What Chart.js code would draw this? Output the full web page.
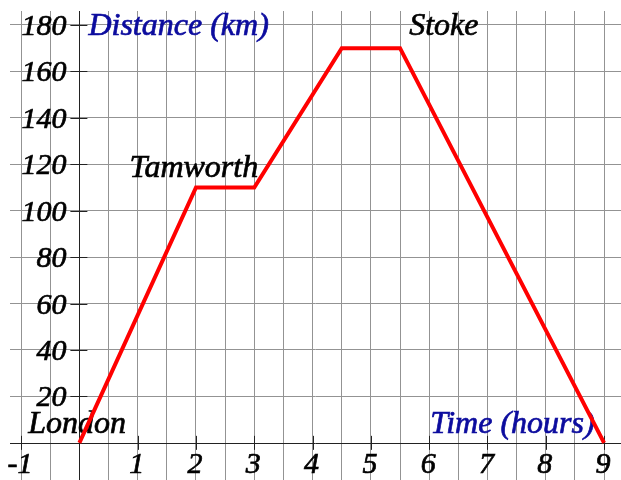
<!DOCTYPE html>
<html>
<head>
<meta charset="UTF-8">
<title>Distance time graph</title>
<script src="https://cdn.jsdelivr.net/npm/chart.js@4.4.0/dist/chart.umd.min.js"></script>
<style>
  body { margin: 0; background: #fff; }
  canvas { display: block; }
</style>
</head>
<body>
<canvas id="myChart" width="621" height="480"></canvas>
<script>
// data: the journey (hours, km)
var times = [0, 2, 3, 4.5, 5.5, 9];
var distances = [0, 110, 110, 170, 170, 0];

// tick labels
var xLabels = [-1, 1, 2, 3, 4, 5, 6, 7, 8, 9];
var yLabels = [20, 40, 60, 80, 100, 120, 140, 160, 180];
// grid lines
var xGrid = [-1, -0.5, 0, 0.5, 1, 1.5, 2, 2.5, 3, 3.5, 4, 4.5, 5, 5.5, 6, 6.5, 7, 7.5, 8, 8.5, 9];
var yGrid = [0, 20, 40, 60, 80, 100, 120, 140, 160, 180];

// place names and axis titles
var notes = [
  { text: 'Distance (km)', x: 0.155, y: 175.7, color: '#0c0c9e' },
  { text: 'Tamworth', x: 0.86, y: 114.6, color: '#000' },
  { text: 'Stoke', x: 5.656, y: 175.7, color: '#000' },
  { text: 'London', x: -0.877, y: 4.3, color: '#000' },
  { text: 'Time (hours)', x: 6.017, y: 4.3, color: '#0c0c9e' }
];

var points = [];
for (var i = 0; i < times.length; i++) {
  points.push({ x: times[i], y: distances[i] });
}

var TICK_FONT = 'italic 30px "Liberation Serif", "Times New Roman", serif';
var NOTE_FONT = 'italic 32px "Liberation Serif", "Times New Roman", serif';

// a bit heavier than plain canvas text
function heavyText(ctx, s, x, y, color) {
  ctx.fillStyle = color;
  ctx.strokeStyle = color;
  ctx.lineWidth = 0.7;
  ctx.fillText(s, x, y);
  ctx.strokeText(s, x, y);
}

// axes, ticks and texts drawn on the scales
var drawAxes = {
  id: 'drawAxes',
  beforeDatasetsDraw: function(chart) {
    var ctx = chart.ctx;
    var xs = chart.scales.x, ys = chart.scales.y;
    var area = chart.chartArea;
    var x0 = xs.getPixelForValue(0), y0 = ys.getPixelForValue(0);
    ctx.save();
    ctx.strokeStyle = '#222';
    ctx.lineWidth = 1;
    ctx.beginPath();
    ctx.moveTo(area.left, Math.round(y0) + 0.5);
    ctx.lineTo(area.right, Math.round(y0) + 0.5);
    ctx.moveTo(Math.round(x0) + 0.5, area.top);
    ctx.lineTo(Math.round(x0) + 0.5, area.bottom);
    for (var i = 0; i < xLabels.length; i++) {
      var px = Math.round(xs.getPixelForValue(xLabels[i])) + 0.5;
      ctx.moveTo(px, y0 - 7);
      ctx.lineTo(px, y0 + 7);
    }
    for (var j = 0; j < yLabels.length; j++) {
      var py = Math.round(ys.getPixelForValue(yLabels[j])) + 0.5;
      ctx.moveTo(x0 - 9, py);
      ctx.lineTo(x0 + 8, py);
    }
    ctx.stroke();

    ctx.font = TICK_FONT;
    ctx.textBaseline = 'alphabetic';
    ctx.textAlign = 'right';
    for (var j = 0; j < yLabels.length; j++) {
      heavyText(ctx, String(yLabels[j]), x0 - 13, ys.getPixelForValue(yLabels[j]) + 10, '#000');
    }
    ctx.textAlign = 'center';
    for (var i = 0; i < xLabels.length; i++) {
      heavyText(ctx, String(xLabels[i]), xs.getPixelForValue(xLabels[i]) - 1, y0 + 30, '#000');
    }
    ctx.font = NOTE_FONT;
    ctx.textAlign = 'left';
    notes.forEach(function(n) {
      heavyText(ctx, n.text, xs.getPixelForValue(n.x), ys.getPixelForValue(n.y), n.color);
    });
    ctx.restore();
  }
};

var ctx = document.getElementById('myChart').getContext('2d');
var myChart = new Chart(ctx, {
  type: 'scatter',
  data: {
    datasets: [{
      data: points,
      showLine: true,
      borderColor: '#ff0000',
      backgroundColor: '#ff0000',
      borderWidth: 4,
      pointRadius: 0,
      tension: 0
    }]
  },
  options: {
    responsive: false,
    animation: false,
    layout: { padding: { left: 10, top: 11, right: 0, bottom: 0 } },
    plugins: { legend: { display: false }, tooltip: { enabled: false } },
    scales: {
      x: {
        type: 'linear',
        min: -1.19,
        max: 9.29,
        afterBuildTicks: function(scale) {
          scale.ticks = xGrid.map(function(v) { return { value: v }; });
        },
        ticks: { display: false },
        border: { display: false },
        grid: {
          drawTicks: false,
          lineWidth: 1,
          color: function(c) { return c.tick && c.tick.value === 0 ? 'rgba(0,0,0,0)' : '#939393'; }
        }
      },
      y: {
        type: 'linear',
        min: -16,
        max: 186,
        afterBuildTicks: function(scale) {
          scale.ticks = yGrid.map(function(v) { return { value: v }; });
        },
        ticks: { display: false },
        border: { display: false },
        grid: {
          drawTicks: false,
          lineWidth: 1,
          color: function(c) { return c.tick && c.tick.value === 0 ? 'rgba(0,0,0,0)' : '#939393'; }
        }
      }
    }
  },
  plugins: [drawAxes]
});
</script>
</body>
</html>
